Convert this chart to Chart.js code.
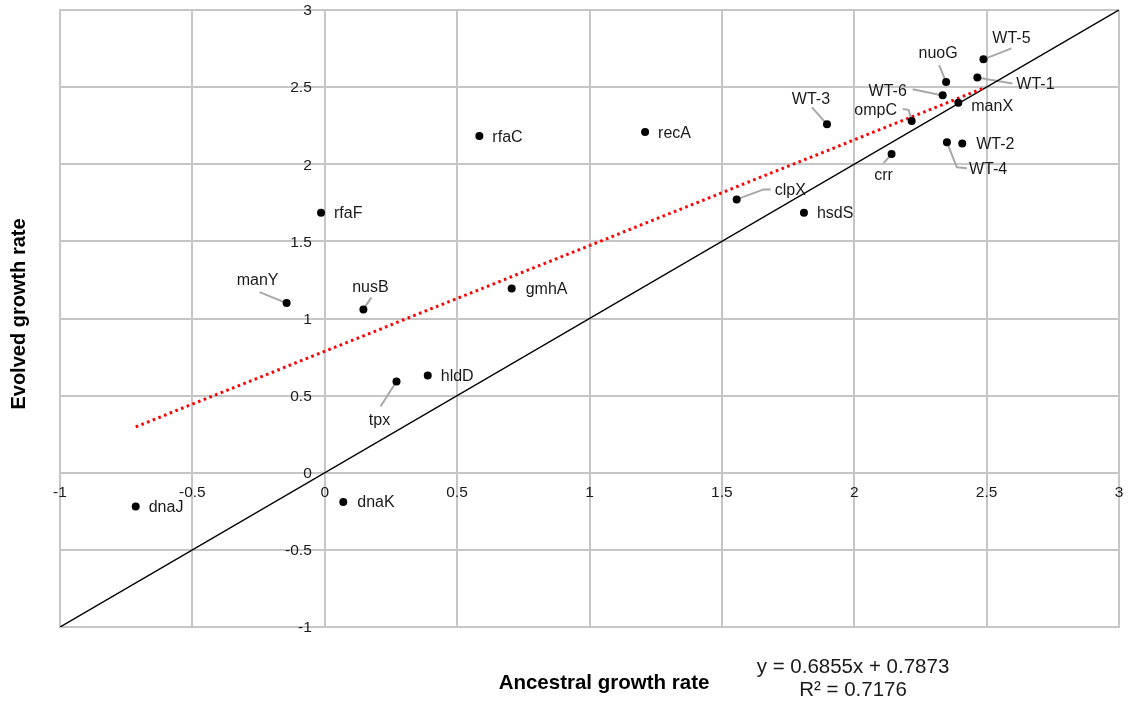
<!DOCTYPE html>
<html>
<head>
<meta charset="utf-8">
<script src="https://cdn.jsdelivr.net/npm/chart.js@4.4.1/dist/chart.umd.min.js"></script>
<style>
  html, body { margin: 0; padding: 0; background: #ffffff; }
  #wrap { width: 1128px; height: 702px; position: relative; }
</style>
</head>
<body>
<div id="wrap"><canvas id="growth"></canvas></div>
<script>
// Growth rates per strain / knockout
const genes = ['dnaJ', 'dnaK', 'manY', 'nusB', 'gmhA', 'hldD', 'tpx', 'rfaF', 'rfaC', 'recA', 'clpX',
               'hsdS', 'crr', 'WT-4', 'WT-2', 'WT-3', 'ompC', 'manX', 'WT-6', 'nuoG', 'WT-1', 'WT-5'];
const ancestral = [-0.714, 0.070, -0.144, 0.146, 0.706, 0.389, 0.271, -0.014, 0.584, 1.210, 1.556,
                   1.810, 2.141, 2.350, 2.408, 1.897, 2.217, 2.393, 2.334, 2.347, 2.465, 2.488];
const evolved = [-0.218, -0.190, 1.100, 1.059, 1.195, 0.631, 0.592, 1.686, 2.183, 2.209, 1.772,
                 1.686, 2.066, 2.142, 2.134, 2.259, 2.280, 2.399, 2.447, 2.533, 2.563, 2.680];

// Axis ticks (both axes share the same range)
const tickValues = [-1, -0.5, 0, 0.5, 1, 1.5, 2, 2.5, 3];
const tickLabels = ['-1', '-0.5', '0', '0.5', '1', '1.5', '2', '2.5', '3'];

// Linear fit of evolved vs ancestral
const fitSlope = 0.6855;
const fitIntercept = 0.7873;
const fitR2 = 0.7176;

// Reference line y = x
const identityEnds = [-1, 3];

// Label placement (pixel offsets from the point, optional leader path)
const labelPlacement = {
  'dnaJ': { dx: 13, dy: 0 },
  'dnaK': { dx: 14, dy: 0 },
  'manY': { dx: -29, dy: -23, align: 'center', leader: [[-27, -11]] },
  'nusB': { dx: 7, dy: -23, align: 'center', leader: [[8, -12]] },
  'gmhA': { dx: 14, dy: 0 },
  'hldD': { dx: 13, dy: 0 },
  'tpx':  { dx: -17, dy: 38, align: 'center', leader: [[-16, 25]] },
  'rfaF': { dx: 13, dy: 0 },
  'rfaC': { dx: 13, dy: 1 },
  'recA': { dx: 13, dy: 1 },
  'clpX': { dx: 38, dy: -10, leader: [[27, -10], [34, -10]] },
  'hsdS': { dx: 13, dy: 0 },
  'crr':  { dx: -8, dy: 21, align: 'center', leader: [[-8, 9]] },
  'WT-4': { dx: 22, dy: 26, leader: [[10, 25], [20, 26]] },
  'WT-2': { dx: 14, dy: 0 },
  'WT-3': { dx: -16, dy: -26, align: 'center', leader: [[-15, -17]] },
  'ompC': { dx: -36, dy: -11, align: 'center', leader: [[-3, -11], [-9, -12]] },
  'manX': { dx: 13, dy: 3 },
  'WT-6': { dx: -55, dy: -5, align: 'center', leader: [[-6, -1], [-30, -6]] },
  'nuoG': { dx: -8, dy: -29, align: 'center', leader: [[-7, -17]] },
  'WT-1': { dx: 39, dy: 6, leader: [[35, 6]] },
  'WT-5': { dx: 28, dy: -22, align: 'center', leader: [[28, -11]] }
};

const FONT = '"Liberation Sans", Arial, Helvetica, sans-serif';
const GRID = '#c6c6c6';

const points = genes.map((g, i) => ({ x: ancestral[i], y: evolved[i] }));
const xLo = Math.min(...ancestral);
const xHi = Math.max(...ancestral);
const fitLine = [
  { x: xLo, y: fitSlope * xLo + fitIntercept },
  { x: xHi, y: fitSlope * xHi + fitIntercept }
];
const identityLine = identityEnds.map(v => ({ x: v, y: v }));

// Leader lines under the points
const leaderPlugin = {
  id: 'leaders',
  beforeDatasetsDraw(chart) {
    const ctx = chart.ctx;
    const meta = chart.getDatasetMeta(0);
    ctx.save();
    ctx.strokeStyle = '#a8a8a8';
    ctx.lineWidth = 2;
    ctx.lineJoin = 'round';
    meta.data.forEach((el, i) => {
      const p = labelPlacement[genes[i]];
      if (!p || !p.leader) return;
      ctx.beginPath();
      ctx.moveTo(el.x, el.y);
      p.leader.forEach(([dx, dy]) => ctx.lineTo(el.x + dx, el.y + dy));
      ctx.stroke();
    });
    ctx.restore();
  }
};

// Point labels, tick labels on the crossing axes, titles and fit equation
const textPlugin = {
  id: 'texts',
  afterDatasetsDraw(chart) {
    const ctx = chart.ctx;
    const xs = chart.scales.x, ys = chart.scales.y;
    const meta = chart.getDatasetMeta(0);
    ctx.save();
    ctx.fillStyle = '#1a1a1a';

    ctx.font = '16px ' + FONT;
    ctx.textBaseline = 'middle';
    meta.data.forEach((el, i) => {
      const p = labelPlacement[genes[i]] || { dx: 13, dy: 0 };
      ctx.textAlign = p.align || 'left';
      ctx.fillText(genes[i], el.x + p.dx, el.y + p.dy + 1);
    });

    // tick labels along the axes through the origin
    const x0 = xs.getPixelForValue(0);
    const y0 = ys.getPixelForValue(0);
    ctx.font = '15.5px ' + FONT;
    ctx.textAlign = 'center';
    ctx.textBaseline = 'middle';
    tickValues.forEach((v, i) => {
      ctx.fillText(tickLabels[i], xs.getPixelForValue(v), y0 + 20);
    });
    ctx.textAlign = 'right';
    tickValues.forEach((v, i) => {
      ctx.fillText(tickLabels[i], x0 - 13, ys.getPixelForValue(v) + 1);
    });

    // axis titles
    ctx.fillStyle = '#000000';
    ctx.font = 'bold 20.5px ' + FONT;
    ctx.textAlign = 'center';
    ctx.textBaseline = 'middle';
    ctx.fillText('Ancestral growth rate', 604, 683);
    ctx.save();
    ctx.translate(19, 314);
    ctx.rotate(-Math.PI / 2);
    ctx.font = 'bold 20px ' + FONT;
    ctx.fillText('Evolved growth rate', 0, 0);
    ctx.restore();

    // fit equation
    ctx.fillStyle = '#1a1a1a';
    ctx.font = '20.5px ' + FONT;
    ctx.fillText('y = ' + fitSlope.toFixed(4) + 'x + ' + fitIntercept.toFixed(4), 853, 667);
    ctx.fillText('R\u00B2 = ' + fitR2.toFixed(4), 853, 690);
    ctx.restore();
  }
};

const axisOpts = {
  type: 'linear',
  min: -1,
  max: 3,
  afterBuildTicks(scale) { scale.ticks = tickValues.map(v => ({ value: v })); },
  ticks: { display: false },
  grid: { color: GRID, lineWidth: 2, drawTicks: false },
  border: { color: GRID, width: 2 },
  title: { display: false }
};

new Chart(document.getElementById('growth'), {
  type: 'scatter',
  data: {
    datasets: [
      {
        label: 'strains',
        data: points,
        pointRadius: 4,
        pointHoverRadius: 4,
        pointBackgroundColor: '#000000',
        pointBorderColor: '#000000',
        pointBorderWidth: 0,
        showLine: false,
        order: 0
      },
      {
        label: 'fit',
        data: fitLine,
        showLine: true,
        borderColor: '#ff0000',
        borderWidth: 3,
        borderDash: [2.6, 3.5],
        pointRadius: 0,
        order: 1
      },
      {
        label: 'y = x',
        data: identityLine,
        showLine: true,
        borderColor: '#000000',
        borderWidth: 1.5,
        pointRadius: 0,
        order: 2
      }
    ]
  },
  options: {
    responsive: true,
    maintainAspectRatio: false,
    animation: false,
    layout: { padding: { left: 60, right: 9, top: 10, bottom: 75 } },
    plugins: {
      legend: { display: false },
      tooltip: { enabled: false }
    },
    scales: { x: axisOpts, y: axisOpts }
  },
  plugins: [leaderPlugin, textPlugin]
});
</script>
</body>
</html>
